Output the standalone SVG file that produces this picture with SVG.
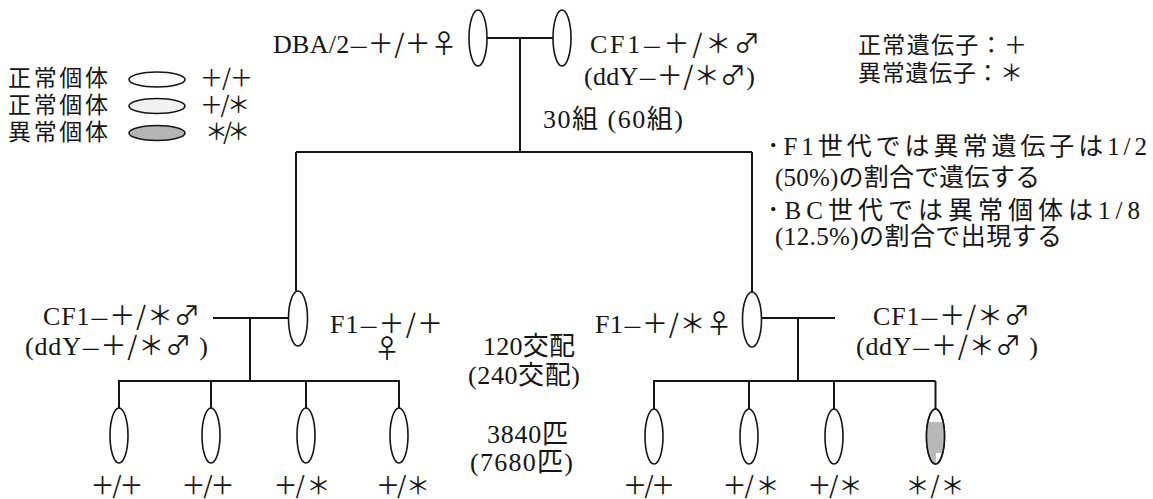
<svg xmlns="http://www.w3.org/2000/svg" width="1153" height="499" viewBox="0 0 1153 499">
<style>
.t{font-family:'Liberation Serif','Noto Sans CJK JP',serif;font-size:26px;fill:#151515}
.j{font-family:'Noto Sans CJK JP','Liberation Serif',sans-serif;font-size:23px;fill:#151515}
.g{font-family:'Noto Sans CJK JP',sans-serif}
.d{font-family:'Noto Sans CJK JP',sans-serif;font-size:20px}
.b{font-family:'Noto Sans CJK JP',sans-serif;font-size:24px;fill:#151515}
.n{fill:#fff;stroke:#151515;stroke-width:1.6}
.c{fill:none;stroke:#151515;stroke-width:2}
</style>
<defs>
<clipPath id="clipAbn"><ellipse cx="935.5" cy="436.5" rx="9" ry="27.5"/></clipPath>
</defs>
<rect width="1153" height="499" fill="#fff"/>

<g id="legend">
<text class="j" x="8" y="86" textLength="100" lengthAdjust="spacing">正常個体</text>
<ellipse class="n" cx="157" cy="79.5" rx="28" ry="7.5"/>
<text class="j" x="200" y="86" textLength="53" lengthAdjust="spacing">＋/＋</text>
<text class="j" x="8" y="113" textLength="100" lengthAdjust="spacing">正常個体</text>
<ellipse class="n" cx="157" cy="106" rx="28" ry="7.5" style="fill:#f1f1f1"/>
<text class="j" x="200" y="113" textLength="50" lengthAdjust="spacing">＋/＊</text>
<text class="j" x="8" y="140" textLength="100" lengthAdjust="spacing">異常個体</text>
<ellipse class="n" cx="157" cy="133" rx="28" ry="7.5" style="fill:#b5b5b5"/>
<text class="j" x="205" y="140" textLength="45" lengthAdjust="spacing">＊/＊</text>
</g>

<g id="key">
<text class="j" x="858" y="53" textLength="169" lengthAdjust="spacing">正常遺伝子：＋</text>
<text class="j" x="858" y="81" textLength="165" lengthAdjust="spacing">異常遺伝子：＊</text>
</g>

<g id="notes">
<text class="t" x="767" y="155" textLength="380" lengthAdjust="spacing" style="font-size:25px">･F1世代では異常遺伝子は1/2</text>
<text class="t" x="775" y="186" textLength="265" lengthAdjust="spacing" style="font-size:25px">(50%)の割合で遺伝する</text>
<text class="t" x="767" y="219" textLength="373" lengthAdjust="spacing" style="font-size:25px">･BC世代では異常個体は1/8</text>
<text class="t" x="775" y="245" textLength="287" lengthAdjust="spacing" style="font-size:25px">(12.5%)の割合で出現する</text>
</g>

<g id="counts">
<text class="t" x="543" y="128" textLength="140" lengthAdjust="spacing">30組 (60組)</text>
<text class="t" x="483" y="355" textLength="92" lengthAdjust="spacing">120交配</text>
<text class="t" x="468" y="384" textLength="112" lengthAdjust="spacing">(240交配)</text>
<text class="t" x="487" y="443" textLength="81" lengthAdjust="spacing">3840匹</text>
<text class="t" x="470" y="471" textLength="103" lengthAdjust="spacing">(7680匹)</text>
</g>

<g id="connectors">
<path class="c" d="M487 38H553M520 38V152M296 152H752M296 152V291M752 152V292"/>
<path class="c" d="M213 318H288.5M250 318V381M118 381H400M119 381V408M211 381V408M306 381V408M399 381V408"/>
<path class="c" d="M761 318H835M798 318V381M653 381H935.5M654 381V409M749 381V409M834 381V409M935.5 381V409"/>
</g>

<g id="p_dba">
<ellipse class="n" cx="478" cy="38" rx="9" ry="28"/>
<text class="t" x="273" y="53" textLength="184" lengthAdjust="spacing">DBA/2<tspan class="d">—</tspan><tspan class="g">＋/＋♀</tspan></text>
</g>
<g id="p_cf1">
<ellipse class="n" cx="562" cy="38" rx="9" ry="28"/>
<text class="t" x="590" y="53" textLength="170" lengthAdjust="spacing">CF1<tspan class="d">—</tspan><tspan class="g">＋/＊♂</tspan></text>
<text class="t" x="584" y="85" textLength="171" lengthAdjust="spacing">(ddY<tspan class="d">—</tspan><tspan class="g">＋/＊♂</tspan>)</text>
</g>

<g id="f1_left">
<ellipse class="n" cx="298" cy="318.5" rx="9.5" ry="27.5"/>
<text class="t" x="330" y="333" textLength="113" lengthAdjust="spacing">F1<tspan class="d">—</tspan><tspan class="g">＋/＋</tspan></text>
<text class="t g" x="387" y="358" text-anchor="middle">♀</text>
</g>
<g id="cf1_left">
<text class="t" x="43" y="325" textLength="157" lengthAdjust="spacing">CF1<tspan class="d">—</tspan><tspan class="g">＋/＊♂</tspan></text>
<text class="t" x="25" y="355" textLength="183" lengthAdjust="spacing">(ddY<tspan class="d">—</tspan><tspan class="g">＋/＊♂</tspan> )</text>
</g>

<g id="f1_right">
<ellipse class="n" cx="752" cy="319.5" rx="9.5" ry="27.5"/>
<text class="t" x="595" y="333" textLength="137" lengthAdjust="spacing">F1<tspan class="d">—</tspan><tspan class="g">＋/＊♀</tspan></text>
</g>
<g id="cf1_right">
<text class="t" x="873" y="325" textLength="157" lengthAdjust="spacing">CF1<tspan class="d">—</tspan><tspan class="g">＋/＊♂</tspan></text>
<text class="t" x="856" y="355" textLength="182" lengthAdjust="spacing">(ddY<tspan class="d">—</tspan><tspan class="g">＋/＊♂</tspan> )</text>
</g>

<g id="bc_l1"><ellipse class="n" cx="119" cy="435.5" rx="9" ry="27.5"/><text class="b" x="117" y="494" text-anchor="middle" textLength="53" lengthAdjust="spacing">＋/＋</text></g>
<g id="bc_l2"><ellipse class="n" cx="211" cy="435.5" rx="9" ry="27.5"/><text class="b" x="208" y="494" text-anchor="middle" textLength="53" lengthAdjust="spacing">＋/＋</text></g>
<g id="bc_l3"><ellipse class="n" cx="306" cy="435.5" rx="9" ry="27.5"/><text class="b" x="302" y="494" text-anchor="middle" textLength="57" lengthAdjust="spacing">＋/ ＊</text></g>
<g id="bc_l4"><ellipse class="n" cx="399" cy="435.5" rx="9" ry="27.5"/><text class="b" x="403" y="494" text-anchor="middle" textLength="54" lengthAdjust="spacing">＋/ ＊</text></g>

<g id="bc_r1"><ellipse class="n" cx="654" cy="436.5" rx="9" ry="27.5"/><text class="b" x="649" y="494" text-anchor="middle" textLength="52" lengthAdjust="spacing">＋/＋</text></g>
<g id="bc_r2"><ellipse class="n" cx="749" cy="436.5" rx="9" ry="27.5"/><text class="b" x="751" y="494" text-anchor="middle" textLength="57" lengthAdjust="spacing">＋/ ＊</text></g>
<g id="bc_r3"><ellipse class="n" cx="834" cy="436.5" rx="9" ry="27.5"/><text class="b" x="835" y="494" text-anchor="middle" textLength="55" lengthAdjust="spacing">＋/ ＊</text></g>
<g id="bc_r4">
<ellipse class="n" cx="935.5" cy="436.5" rx="9" ry="27.5"/>
<g clip-path="url(#clipAbn)"><rect x="920" y="422" width="30" height="31" fill="#b8b8b8"/><rect x="920" y="453" width="16" height="12" fill="#b8b8b8"/></g>
<ellipse cx="935.5" cy="436.5" rx="9" ry="27.5" fill="none" stroke="#151515" stroke-width="1.6"/>
<text class="b" x="935" y="494" text-anchor="middle" textLength="59" lengthAdjust="spacing">＊ / ＊</text>
</g>
</svg>
